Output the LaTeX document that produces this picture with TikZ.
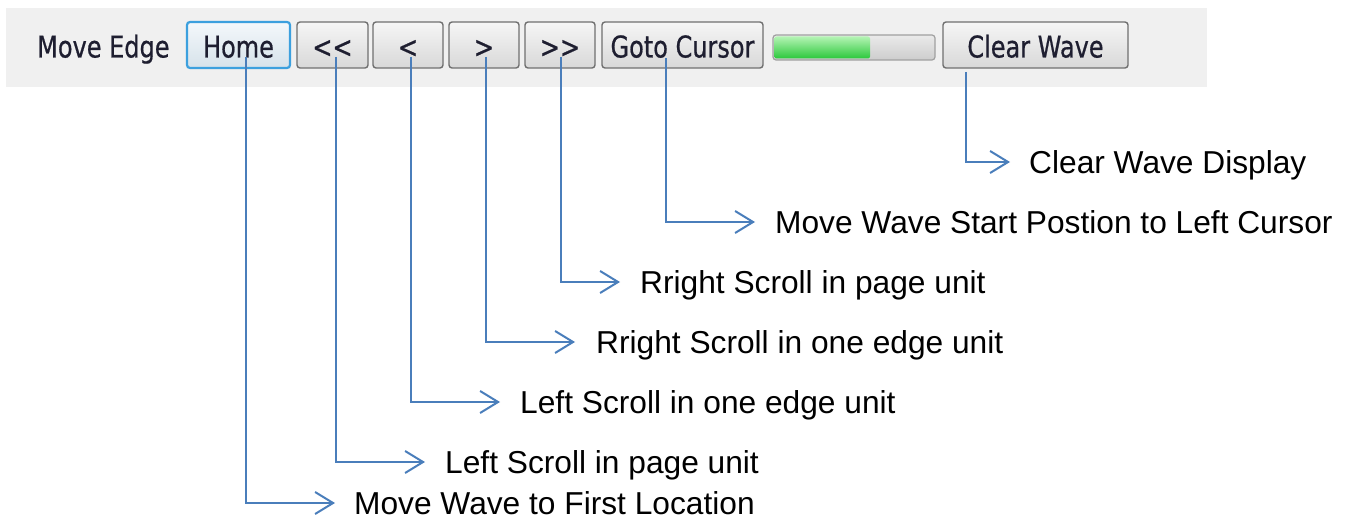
\documentclass[tikz,border=0pt]{standalone}
\usepackage{fontspec}
\setmainfont{Liberation Sans}
\newfontfamily\uifont[FakeStretch=0.8,FakeBold=0.6]{DejaVu Sans}
\usetikzlibrary{arrows.meta}

\definecolor{bandgray}{HTML}{F0F0F0}
\definecolor{btnedge}{HTML}{707070}
\definecolor{btntop}{HTML}{F6F6F6}
\definecolor{btnbot}{HTML}{D8D8D8}
\definecolor{homeedge}{HTML}{3CA0DE}
\definecolor{hometop}{HTML}{F4F8FB}
\definecolor{homebot}{HTML}{D6E2EA}
\definecolor{uitext}{HTML}{1E1E30}
\definecolor{linkblue}{HTML}{4A7EBB}
\definecolor{baredge}{HTML}{A0A0A0}
\definecolor{bartop}{HTML}{EAEAEA}
\definecolor{barbot}{HTML}{CDCDCD}
\definecolor{greentop}{HTML}{B4F4B4}
\definecolor{greenmid}{HTML}{62DE62}
\definecolor{greenbot}{HTML}{2CC83C}

\begin{document}
\begin{tikzpicture}[x=1pt,y=-1pt,
  uifont/.style={font=\uifont\fontsize{30}{36}\selectfont, text=uitext},
  btn/.style={uifont, draw=btnedge, line width=1.4pt, rounded corners=3pt,
    top color=btntop, bottom color=btnbot, minimum height=46pt,
    inner sep=0pt, text height=25pt, text depth=0pt},
  homebtn/.style={btn, draw=homeedge, line width=2.2pt,
    top color=hometop, bottom color=homebot},
  lab/.style={anchor=west, inner sep=0pt, text height=22.7pt, text depth=0pt,
    font=\fontsize{31.7}{38}\selectfont, text=black},
  conn/.style={draw=linkblue, line width=2pt,
    -{Straight Barb[length=18pt,width=22pt]}}
]
\useasboundingbox (0,0) rectangle (1353,519);
\fill[white] (0,0) rectangle (1353,519);

% toolbar strip
\fill[bandgray] (6,8) rectangle (1207,87);
\node[uifont, anchor=base west, inner sep=0pt] (edge) at (37,57.5) {Move Edge};

% buttons
\node[homebtn, minimum width=103pt] (b1) at (238.5,45) {Home};
\node[btn, minimum width=71pt] (b2) at (332.5,45) {<<};
\node[btn, minimum width=70pt] (b3) at (408,45) {<};
\node[btn, minimum width=70pt] (b4) at (484,45) {>};
\node[btn, minimum width=70pt] (b5) at (560,45) {>>};
\node[btn, minimum width=161pt] (b6) at (682.5,45) {Goto Cursor};
\node[btn, minimum width=185pt] (b7) at (1035.5,45) {Clear Wave};

% progress bar
\path[draw=baredge, line width=1.2pt, rounded corners=3pt,
  top color=bartop, bottom color=barbot] (773,35) rectangle (935,60);
\path[rounded corners=2pt, top color=greentop, middle color=greenmid,
  bottom color=greenbot] (774.5,36.5) rectangle (870,58.5);

% descriptions
\node[lab] (t1) at (354,503) {Move Wave to First Location};
\node[lab] (t2) at (445,462) {Left Scroll in page unit};
\node[lab] (t3) at (520,402) {Left Scroll in one edge unit};
\node[lab] (t4) at (596,342) {Rright Scroll in one edge unit};
\node[lab] (t5) at (640,282) {Rright Scroll in page unit};
\node[lab] (t6) at (775,222) {Move Wave Start Postion to Left Cursor};
\node[lab] (t7) at (1029,162) {Clear Wave Display};

% connector start points on the buttons
\coordinate (s1) at (246,57);
\coordinate (s2) at (336,57);
\coordinate (s3) at (411,57);
\coordinate (s4) at (485.5,57);
\coordinate (s5) at (561,57);
\coordinate (s6) at (666,58);
\coordinate (s7) at (966,72);

\draw[conn] (s1) |- ([xshift=-19pt]t1.west);
\draw[conn] (s2) |- ([xshift=-20pt]t2.west);
\draw[conn] (s3) |- ([xshift=-20pt]t3.west);
\draw[conn] (s4) |- ([xshift=-21pt]t4.west);
\draw[conn] (s5) |- ([xshift=-20pt]t5.west);
\draw[conn] (s6) |- ([xshift=-20pt]t6.west);
\draw[conn] (s7) |- ([xshift=-19pt]t7.west);
\end{tikzpicture}
\end{document}
